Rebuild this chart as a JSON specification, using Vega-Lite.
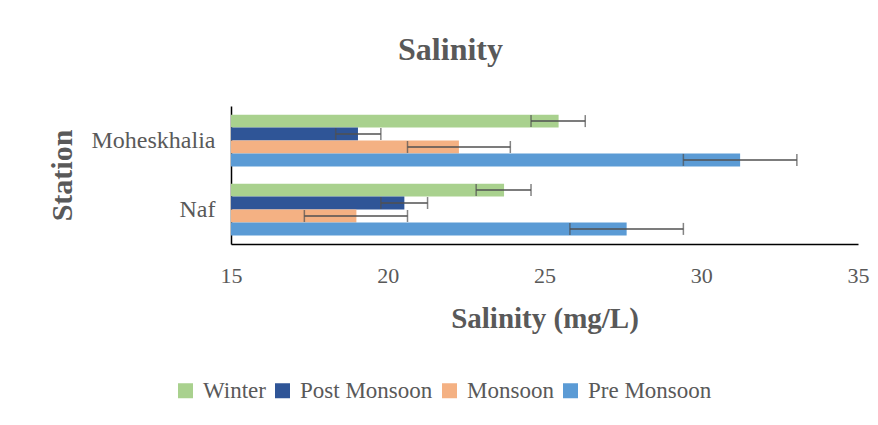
{
  "$schema": "https://vega.github.io/schema/vega-lite/v6.json",
  "width": 627,
  "height": 138,
  "padding": {"left": 47, "top": 34, "right": 15, "bottom": 10},
  "background": "white",
  "title": {"text": "Salinity", "font": "Liberation Serif", "fontSize": 32, "fontWeight": "bold", "color": "#595959", "dx": -94, "offset": 39},
  "config": {
    "view": {"stroke": null},
    "font": "Liberation Serif"
  },
  "data": {"values": [
    {"station": "Moheskhalia", "season": "Winter", "mean": 25.45, "lo": 24.57, "hi": 26.3},
    {"station": "Moheskhalia", "season": "Post Monsoon", "mean": 19.05, "lo": 18.34, "hi": 19.78},
    {"station": "Moheskhalia", "season": "Monsoon", "mean": 22.27, "lo": 20.63, "hi": 23.91},
    {"station": "Moheskhalia", "season": "Pre Monsoon", "mean": 31.24, "lo": 29.43, "hi": 33.05},
    {"station": "Naf", "season": "Winter", "mean": 23.71, "lo": 22.82, "hi": 24.57},
    {"station": "Naf", "season": "Post Monsoon", "mean": 20.53, "lo": 19.78, "hi": 21.27},
    {"station": "Naf", "season": "Monsoon", "mean": 19.0, "lo": 17.34, "hi": 20.63},
    {"station": "Naf", "season": "Pre Monsoon", "mean": 27.62, "lo": 25.81, "hi": 29.43}
  ]},
  "encoding": {
    "y": {"field": "station", "type": "nominal", "sort": ["Moheskhalia", "Naf"],
      "scale": {"paddingInner": 0.25, "paddingOuter": 0.125},
      "axis": {"title": "Station", "titleFont": "Liberation Serif", "titleFontSize": 30, "titleFontWeight": "bold", "titleColor": "#595959", "titlePadding": 14,
        "labelFont": "Liberation Serif", "labelFontSize": 24, "labelColor": "#595959", "ticks": false, "labelPadding": 16, "domainColor": "black", "domainWidth": 1.5}},
    "yOffset": {"field": "season", "type": "nominal", "sort": ["Winter", "Post Monsoon", "Monsoon", "Pre Monsoon"]}
  },
  "layer": [
    {
      "mark": {"type": "bar"},
      "encoding": {
        "x": {"field": "mean", "type": "quantitative", "scale": {"domain": [15, 35], "nice": false, "zero": false},
          "axis": {"title": "Salinity (mg/L)", "titleFont": "Liberation Serif", "titleFontSize": 29, "titleFontWeight": "bold", "titleColor": "#595959", "titlePadding": 18,
            "values": [15, 20, 25, 30, 35], "grid": false, "ticks": false, "labelFlush": false, "labelPadding": 21, "labelFont": "Liberation Serif", "labelFontSize": 22, "labelColor": "#595959", "domainColor": "black", "domainWidth": 1.5}},
        "x2": {"datum": 15},
        "color": {"field": "season", "type": "nominal",
          "scale": {"domain": ["Winter", "Post Monsoon", "Monsoon", "Pre Monsoon"], "range": ["#A9D18E", "#2F5597", "#F4B183", "#5B9BD5"]},
          "legend": {"title": null, "orient": "none", "legendX": -57, "legendY": 273, "direction": "horizontal",
            "symbolType": "square", "symbolSize": 225, "symbolStrokeWidth": 0, "labelFont": "Liberation Serif", "labelFontSize": 23, "labelColor": "#595959", "columnPadding": 5, "labelOffset": 6}}
      }
    },
    {
      "mark": {"type": "rule", "color": "#505050", "strokeWidth": 1.5},
      "encoding": {"x": {"field": "lo", "type": "quantitative"}, "x2": {"field": "hi"}}
    },
    {
      "mark": {"type": "tick", "color": "#505050", "thickness": 1.5, "size": 12},
      "encoding": {"x": {"field": "lo", "type": "quantitative"}}
    },
    {
      "mark": {"type": "tick", "color": "#505050", "thickness": 1.5, "size": 12},
      "encoding": {"x": {"field": "hi", "type": "quantitative"}}
    }
  ]
}
